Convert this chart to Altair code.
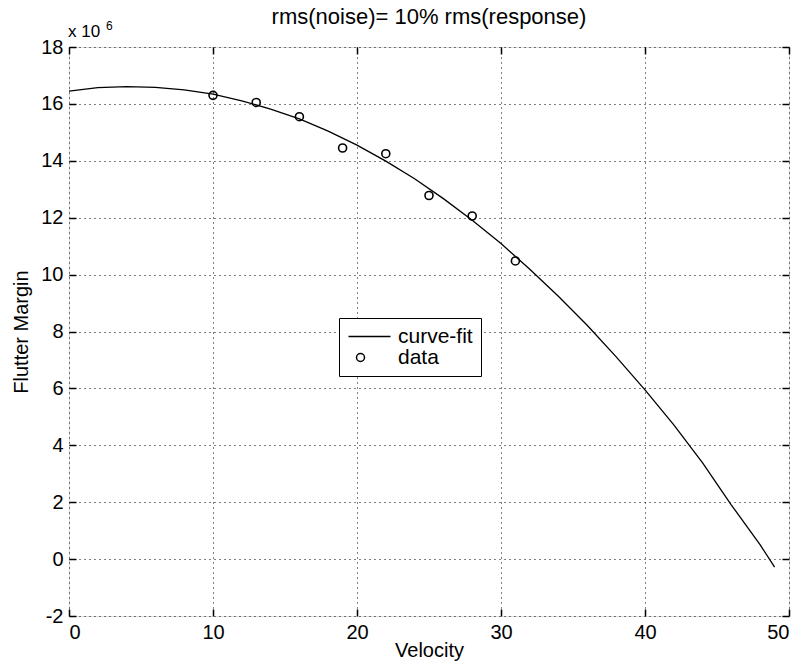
import altair as alt
import pandas as pd

# ---- data ----
velocity_fit = [0, 2, 4, 6, 8, 10, 12, 14, 16, 18, 20, 22, 24, 26, 28, 30, 32, 34, 36, 38, 40, 42, 44, 46, 48, 49]
margin_fit = [16.45, 16.57, 16.61, 16.58, 16.49, 16.34, 16.11, 15.82, 15.47, 15.04, 14.55, 13.99, 13.37,
              12.67, 11.91, 11.09, 10.19, 9.23, 8.21, 7.11, 5.95, 4.72, 3.38, 1.9, 0.5, -0.28]
velocity_data = [10, 13, 16, 19, 22, 25, 28, 31]
margin_data = [16.3, 16.05, 15.55, 14.45, 14.25, 12.78, 12.06, 10.48]
x_ticks = [0, 10, 20, 30, 40, 50]
y_ticks = [-2, 0, 2, 4, 6, 8, 10, 12, 14, 16, 18]
series_names = ["curve-fit", "data"]
title_text = "rms(noise)= 10% rms(response)"
exp_base = "x 10"
exp_power = "6"

FONT = "Liberation Sans"
W, H = 720, 569

fit_df = pd.DataFrame({"v": velocity_fit, "m": margin_fit, "series": "curve-fit"})
pts_df = pd.DataFrame({"v": velocity_data, "m": margin_data, "series": "data"})

xs = alt.Scale(domain=[0, 50], nice=False, zero=False)
ys = alt.Scale(domain=[-2, 18], nice=False, zero=False)

grid_common = dict(grid=True, gridColor="black", gridDash=[1, 4], gridWidth=1, gridOpacity=1,
                   domain=False, ticks=False, labelFont=FONT, labelFontSize=20, labelColor="black",
                   titleFont=FONT, titleFontSize=20, titleColor="black", titleFontWeight="normal",
                   labelExpr="'' + datum.value")


def tick_axis(orient, offset, values):
    return alt.Axis(orient=orient, offset=offset, values=values, labels=False, grid=False,
                    domain=False, ticks=True, tickSize=7, tickColor="black", tickWidth=1.5,
                    title=None)


line = alt.Chart(fit_df).mark_line(color="black", strokeWidth=1.3).encode(
    x=alt.X("v:Q", scale=xs, axis=alt.Axis(values=x_ticks, title="Velocity", labelPadding=6,
                                           titlePadding=-2, **grid_common)),
    y=alt.Y("m:Q", scale=ys, axis=alt.Axis(values=y_ticks, title="Flutter Margin", labelPadding=6,
                                           titlePadding=9, **grid_common)),
)

points = alt.Chart(pts_df).mark_point(filled=False, size=64, strokeWidth=1.6, color="black", opacity=1).encode(
    x=alt.X("v:Q", scale=xs, axis=tick_axis("top", -H, x_ticks)),
    y=alt.Y("m:Q", scale=ys, axis=tick_axis("right", -W, y_ticks)),
    shape=alt.Shape("series:N",
                    scale=alt.Scale(domain=series_names, range=["M-3,0L7.5,0", "circle"]),
                    legend=alt.Legend(orient="none", legendX=270, legendY=271, title=None,
                                      strokeColor="black", fillColor="white", padding=8,
                                      symbolSize=64, symbolStrokeWidth=1.5, symbolStrokeColor="black",
                                      symbolFillColor="white", symbolOffset=3, labelFont=FONT,
                                      labelFontSize=21, labelColor="black", labelOffset=27,
                                      rowPadding=-3)),
)

ghost = alt.Chart(pts_df).mark_point(opacity=0).encode(
    x=alt.X("v:Q", scale=xs, axis=tick_axis("bottom", -H, x_ticks)),
    y=alt.Y("m:Q", scale=ys, axis=tick_axis("left", -W, y_ticks)),
)

exp_df = pd.DataFrame({"b": [exp_base], "p": [exp_power]})
exp_base_mark = alt.Chart(exp_df).mark_text(align="left", baseline="alphabetic", font=FONT,
                                            fontSize=17, color="black").encode(
    x=alt.value(-1), y=alt.value(-10), text="b:N")
exp_pow_mark = alt.Chart(exp_df).mark_text(align="left", baseline="alphabetic", font=FONT,
                                           fontSize=12, color="black").encode(
    x=alt.value(37), y=alt.value(-17), text="p:N")

chart = alt.layer(line, points, ghost, exp_base_mark, exp_pow_mark).resolve_axis(
    x="independent", y="independent"
).properties(
    width=W, height=H,
    title=alt.Title(title_text, font=FONT, fontSize=22, fontWeight="normal", color="black",
                    anchor="middle", offset=-9),
    autosize=alt.AutoSizeParams(type="none"),
    padding={"left": 69, "top": 47, "right": 13, "bottom": 48},
).configure_view(stroke="black", strokeWidth=1.5).configure(background="white")

chart.save("out.html", embed_options={"renderer": "svg", "actions": False})
